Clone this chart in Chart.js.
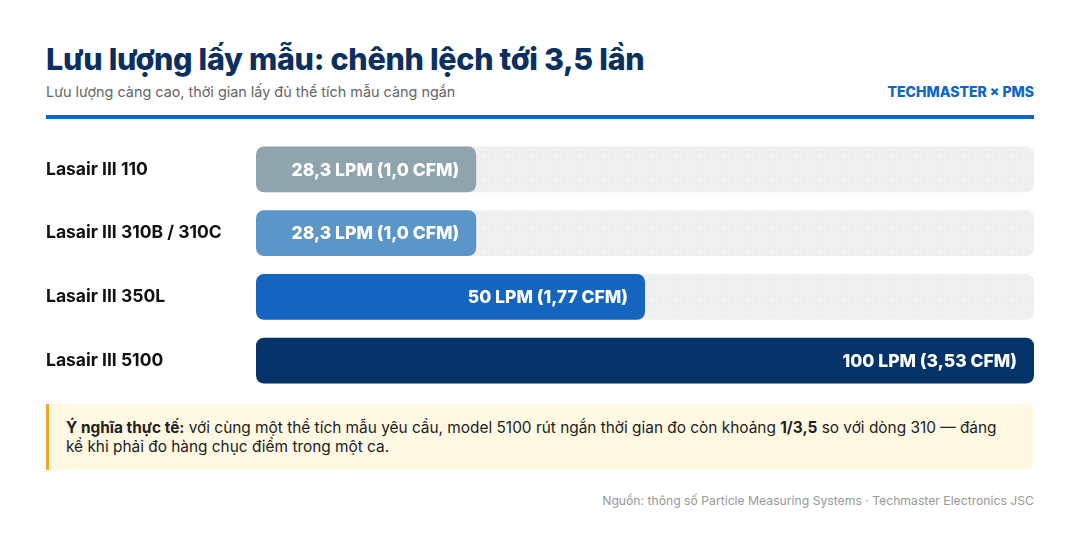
<!DOCTYPE html>
<html lang="vi">
<head>
<meta charset="utf-8">
<script src="https://cdn.jsdelivr.net/npm/chart.js@4.4.1/dist/chart.umd.min.js"></script>
<style>
  html, body { margin: 0; padding: 0; background: #fff; }
  body { width: 1080px; height: 542px; position: relative; font-family: Inter, "Noto Sans", sans-serif; overflow: hidden; }
  .title { position: absolute; left: 46px; top: 40px; margin: 0; font-size: 30.5px; font-weight: 800; color: #0b2f5f; letter-spacing: -0.3px; }
  .sub { position: absolute; left: 46px; top: 83px; font-size: 14.4px; color: #666; }
  .brand { position: absolute; right: 46px; top: 83px; font-size: 14px; font-weight: 800; color: #0a66c9; }
  .rule { position: absolute; left: 46px; top: 115px; width: 988px; height: 4px; background: #0a66c9; }
  .wrap { position: absolute; left: 46px; top: 127px; width: 988px; height: 276px; }
  .note { position: absolute; left: 46px; top: 404px; width: 988px; height: 66px; box-sizing: border-box;
          background: #fff8e3; border-left: 3px solid #f5a623; border-radius: 0 8px 8px 0;
          padding: 14px 34px 0 17px; font-size: 15.4px; line-height: 19px; color: #222; }
  .foot { position: absolute; right: 46px; top: 493px; font-size: 12.2px; color: #999; }
</style>
</head>
<body>
<h1 class="title">Lưu lượng lấy mẫu: chênh lệch tới 3,5 lần</h1>
<div class="sub">Lưu lượng càng cao, thời gian lấy đủ thể tích mẫu càng ngắn</div>
<div class="brand">TECHMASTER × PMS</div>
<div class="rule"></div>
<div class="wrap"><canvas id="myChart"></canvas></div>
<div class="note"><b>Ý nghĩa thực tế:</b> với cùng một thể tích mẫu yêu cầu, model 5100 rút ngắn thời gian đo còn khoảng <b>1/3,5</b> so với dòng 310 — đáng kể khi phải đo hàng chục điểm trong một ca.</div>
<div class="foot">Nguồn: thông số Particle Measuring Systems · Techmaster Electronics JSC</div>

<script>
const models = ["Lasair III 110", "Lasair III 310B / 310C", "Lasair III 350L", "Lasair III 5100"];
const flowLpm = [28.3, 28.3, 50, 100];
const valueLabels = ["28,3 LPM (1,0 CFM)", "28,3 LPM (1,0 CFM)", "50 LPM (1,77 CFM)", "100 LPM (3,53 CFM)"];
const barColors = ["#90a4ae", "#5b96c9", "#1565c0", "#04336a"];
const scaleMax = 100;

// dotted grey track behind each bar
function dotPattern(ctx) {
  const c = document.createElement('canvas');
  c.width = 6; c.height = 6;
  const g = c.getContext('2d');
  g.fillStyle = '#f0f0f0';
  g.fillRect(0, 0, 6, 6);
  g.fillStyle = '#e4e2e0';
  g.fillRect(2, 2, 1, 1);
  return ctx.createPattern(c, 'repeat');
}

const trackPlugin = {
  id: 'track',
  beforeDatasetsDraw(chart) {
    const ctx = chart.ctx;
    const area = chart.chartArea;
    const meta = chart.getDatasetMeta(0);
    ctx.save();
    ctx.fillStyle = dotPattern(ctx);
    meta.data.forEach(bar => {
      const h = bar.height;
      ctx.beginPath();
      ctx.roundRect(area.left, bar.y - h / 2, area.right - area.left, h, 8);
      ctx.fill();
    });
    ctx.restore();
  }
};

const labelPlugin = {
  id: 'valueLabels',
  afterDatasetsDraw(chart) {
    const ctx = chart.ctx;
    const meta = chart.getDatasetMeta(0);
    ctx.save();
    ctx.font = '800 17.5px Inter, "Noto Sans", sans-serif';
    ctx.fillStyle = '#fff';
    ctx.textAlign = 'right';
    ctx.textBaseline = 'middle';
    meta.data.forEach((bar, i) => {
      ctx.fillText(valueLabels[i], bar.x - 17, bar.y + 1);
    });
    ctx.restore();
  }
};

const data = {
  labels: models,
  datasets: [{
    label: 'LPM',
    data: flowLpm,
    backgroundColor: barColors,
    borderRadius: 8,
    borderSkipped: false,
    barPercentage: 0.72,
    categoryPercentage: 1
  }]
};

const config = {
  type: 'bar',
  data: data,
  options: {
    indexAxis: 'y',
    responsive: true,
    maintainAspectRatio: false,
    animation: false,
    layout: { padding: 0 },
    scales: {
      x: { display: false, min: 0, max: scaleMax },
      y: {
        grid: { display: false },
        border: { display: false },
        afterFit(axis) { axis.width = 210; },
        ticks: {
          crossAlign: 'far',
          padding: 0,
          color: '#111',
          font: { family: 'Inter, "Noto Sans", sans-serif', size: 17.5, weight: '700' }
        }
      }
    },
    plugins: {
      legend: { display: false },
      tooltip: { enabled: false }
    }
  },
  plugins: [trackPlugin, labelPlugin]
};

const myChart = new Chart(document.getElementById('myChart'), config);
</script>
</body>
</html>
